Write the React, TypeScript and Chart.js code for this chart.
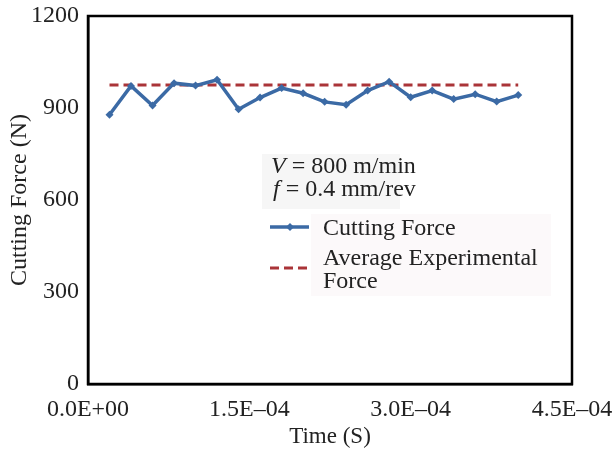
import React, { useEffect, useRef } from "react";
import { Chart, registerables } from "chart.js";
Chart.register(...registerables);

const times = [2.0e-5, 4.0e-5, 6.0e-5, 8.0e-5, 1.0e-4, 1.2e-4, 1.4e-4, 1.6e-4, 1.8e-4, 2.0e-4, 2.2e-4, 2.4e-4, 2.6e-4, 2.8e-4, 3.0e-4, 3.2e-4, 3.4e-4, 3.6e-4, 3.8e-4, 4.0e-4];
const cuttingForce = [878, 972, 908, 981, 973, 992, 896, 934, 965, 948, 920, 911, 957, 986, 935, 957, 929, 945, 921, 942];
const averageForce = 975;
const xTickValues = [0, 1.5e-4, 3.0e-4, 4.5e-4];
const xTickLabels = ["0.0E+00", "1.5E\u201304", "3.0E\u201304", "4.5E\u201304"];
const yTickValues = [0, 300, 600, 900, 1200];
const yTickLabels = ["0", "300", "600", "900", "1200"];
const seriesNames = ["Cutting Force", "Average Experimental", "Force"];
const conditionSymbols = ["V", "f"];
const conditionLines = [" = 800 m/min", " = 0.4 mm/rev"];

const FONT = "'Liberation Serif', 'Times New Roman', serif";
const BLUE = "#3b6aa5";
const RED = "#aa3438";
const TEXT = "#222";

const overlayPlugin = {
  id: "overlay",
  afterDraw(chart: any) {
    const ctx = chart.ctx;
    ctx.save();
    // conditions box
    ctx.fillStyle = "#f6f6f6";
    ctx.fillRect(262, 154, 138, 55);
    ctx.fillStyle = TEXT;
    ctx.textBaseline = "alphabetic";
    const rows = [173, 196];
    for (let i = 0; i < 2; i++) {
      ctx.font = `italic 24px ${FONT}`;
      const x0 = i === 0 ? 271 : 273;
      ctx.fillText(conditionSymbols[i], x0, rows[i]);
      const w = ctx.measureText(conditionSymbols[i]).width;
      ctx.font = `24px ${FONT}`;
      ctx.fillText(conditionLines[i], x0 + w, rows[i]);
    }
    // legend box
    ctx.fillStyle = "#fcf9fa";
    ctx.fillRect(311, 214, 240, 82);
    // legend samples
    ctx.strokeStyle = BLUE;
    ctx.lineWidth = 3.5;
    ctx.beginPath();
    ctx.moveTo(270, 227);
    ctx.lineTo(309, 227);
    ctx.stroke();
    ctx.fillStyle = BLUE;
    ctx.beginPath();
    ctx.moveTo(290, 223);
    ctx.lineTo(294, 227);
    ctx.lineTo(290, 231);
    ctx.lineTo(286, 227);
    ctx.closePath();
    ctx.fill();
    ctx.strokeStyle = RED;
    ctx.lineWidth = 3;
    ctx.setLineDash([9, 5]);
    ctx.beginPath();
    ctx.moveTo(270, 268);
    ctx.lineTo(310, 268);
    ctx.stroke();
    ctx.setLineDash([]);
    ctx.fillStyle = TEXT;
    ctx.font = `24px ${FONT}`;
    ctx.fillText(seriesNames[0], 323, 235);
    ctx.fillText(seriesNames[1], 323, 265);
    ctx.fillText(seriesNames[2], 323, 288);
    // frame
    const a = chart.chartArea;
    ctx.strokeStyle = "#000";
    ctx.lineWidth = 2.5;
    ctx.strokeRect(a.left, a.top, a.right - a.left, a.bottom - a.top);
    ctx.restore();
  },
};

export default function App() {
  const ref = useRef<HTMLCanvasElement>(null);
  useEffect(() => {
    const tMin = times[0];
    const tMax = times[times.length - 1];
    const chart = new Chart(ref.current!, {
      type: "line",
      data: {
        datasets: [
          {
            label: "Cutting Force",
            data: times.map((t, i) => ({ x: t, y: cuttingForce[i] })),
            borderColor: BLUE,
            backgroundColor: BLUE,
            borderWidth: 3.5,
            pointStyle: "rectRot",
            pointRadius: 4,
            pointBorderWidth: 0,
            tension: 0,
          },
          {
            label: "Average Experimental Force",
            data: [
              { x: tMin, y: averageForce },
              { x: tMax, y: averageForce },
            ],
            borderColor: RED,
            borderWidth: 3,
            borderDash: [9, 5],
            pointRadius: 0,
          },
        ],
      },
      options: {
        animation: false,
        responsive: false,
        layout: { padding: { top: 16, right: 41, left: 0, bottom: 0 } },
        plugins: { legend: { display: false }, tooltip: { enabled: false } },
        scales: {
          x: {
            type: "linear",
            min: 0,
            max: 4.5e-4,
            afterBuildTicks: (s: any) => {
              s.ticks = xTickValues.map((v) => ({ value: v }));
            },
            afterFit: (s: any) => {
              s.height = 68;
              s.paddingLeft = 0;
              s.paddingRight = 0;
            },
            grid: { display: false, drawTicks: true, tickLength: 5, tickColor: "#000", tickWidth: 2 },
            border: { display: true, color: "#000", width: 2.5 },
            ticks: {
              color: TEXT,
              font: { family: FONT, size: 24 },
              maxRotation: 0,
              autoSkip: false,
              padding: 6,
              callback: (_v: any, i: number) => xTickLabels[i],
            },
            title: {
              display: true,
              text: "Time (S)",
              color: TEXT,
              font: { family: FONT, size: 23 },
              padding: { top: 0, bottom: 1 },
            },
          },
          y: {
            min: 0,
            max: 1200,
            afterBuildTicks: (s: any) => {
              s.ticks = yTickValues.map((v) => ({ value: v }));
            },
            afterFit: (s: any) => {
              s.width = 88;
              s.paddingTop = 0;
              s.paddingBottom = 0;
            },
            grid: { display: false, drawTicks: true, tickLength: 5, tickColor: "#000", tickWidth: 2 },
            border: { display: true, color: "#000", width: 2.5 },
            ticks: {
              color: TEXT,
              font: { family: FONT, size: 24 },
              padding: 4,
              autoSkip: false,
              callback: (_v: any, i: number) => yTickLabels[i],
            },
            title: {
              display: true,
              text: "Cutting Force (N)",
              color: TEXT,
              font: { family: FONT, size: 24 },
              padding: { top: 5, bottom: 0 },
            },
          },
        },
      },
      plugins: [overlayPlugin],
    });
    return () => chart.destroy();
  }, []);
  return (
    <div style={{ position: "fixed", left: 0, top: 0, width: 613, height: 452, background: "#fff" }}>
      <canvas ref={ref} width={613} height={452} style={{ width: 613, height: 452 }} />
    </div>
  );
}
